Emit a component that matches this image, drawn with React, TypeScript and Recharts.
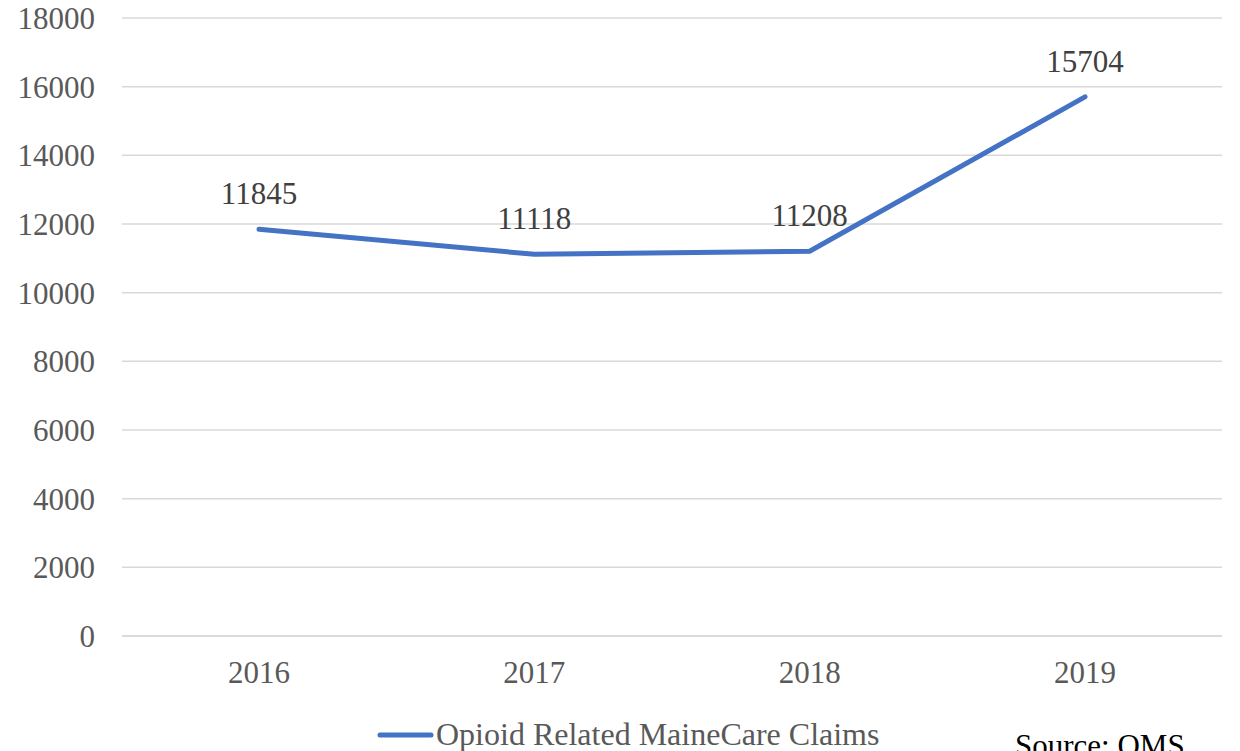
import { LineChart, Line, XAxis, YAxis, CartesianGrid, LabelList } from 'recharts';

const years = ['2016', '2017', '2018', '2019'];
const claims = [11845, 11118, 11208, 15704];
const yTicks = [0, 2000, 4000, 6000, 8000, 10000, 12000, 14000, 16000, 18000];

const data = years.map((year, i) => ({ year, claims: claims[i] }));

const FONT = '"Liberation Serif", "Times New Roman", serif';
const BLUE = '#4472C4';

export default function App() {
  return (
    <div style={{ position: 'absolute', left: 0, top: 0, width: 1240, height: 751, overflow: 'hidden', background: '#fff', fontFamily: FONT }}>
      <LineChart width={1240} height={751} data={data} margin={{ top: 18, right: 18, bottom: 55, left: 0 }} style={{ fontFamily: FONT }}>
        <CartesianGrid vertical={false} stroke="#d9d9d9" strokeWidth={1.5} />
        <XAxis
          dataKey="year"
          axisLine={{ stroke: '#d9d9d9', strokeWidth: 1.5 }}
          tickLine={false}
          tickSize={0}
          tickMargin={25}
          height={60}
          padding={{ left: 137, right: 137 }}
          tick={{ fontSize: 31, fill: '#595959' }}
        />
        <YAxis
          domain={[0, 18000]}
          ticks={yTicks}
          axisLine={false}
          tickLine={false}
          tickSize={0}
          tickMargin={27}
          width={122}
          tick={{ fontSize: 31, fill: '#595959' }}
        />
        <Line
          type="linear"
          dataKey="claims"
          name="Opioid Related MaineCare Claims"
          stroke={BLUE}
          strokeWidth={5}
          strokeLinecap="round"
          dot={false}
          activeDot={false}
          isAnimationActive={false}
        >
          <LabelList dataKey="claims" position="top" offset={25} style={{ fontSize: 31, fill: '#404040' }} />
        </Line>
      </LineChart>
      <div style={{ position: 'absolute', left: 377, top: 716, display: 'flex', alignItems: 'center', fontSize: 32, color: '#595959', whiteSpace: 'nowrap' }}>
        <svg width={57} height={10} style={{ marginRight: 2 }}>
          <line x1={3} y1={5} x2={54} y2={5} stroke={BLUE} strokeWidth={5} strokeLinecap="round" />
        </svg>
        <span>Opioid Related MaineCare Claims</span>
      </div>
      <div style={{ position: 'absolute', left: 1015, top: 728, fontSize: 31, color: '#000', whiteSpace: 'nowrap' }}>
        Source: OMS
      </div>
    </div>
  );
}
